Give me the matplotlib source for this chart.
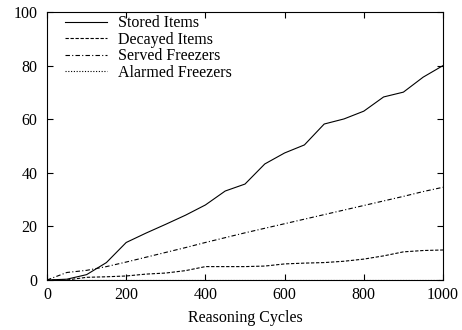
import numpy as np
import matplotlib
matplotlib.use("Agg")
import matplotlib.pyplot as plt

plt.rcParams['font.family'] = ['Liberation Serif', 'DejaVu Serif']

cycles = [0, 50, 100, 150, 200, 250, 300, 350, 400, 450, 500,
          550, 600, 650, 700, 750, 800, 850, 900, 950, 1000]
stored = [0, 0.3, 2.0, 6.5, 14.0, 17.5, 20.8, 24.2, 28.0, 33.2, 35.8,
          43.3, 47.4, 50.4, 58.2, 60.1, 63.0, 68.3, 70.1, 75.7, 80.0]
decayed = [0, 0, 1.0, 1.2, 1.5, 2.2, 2.6, 3.5, 5.0, 5.0, 5.0,
           5.2, 6.0, 6.3, 6.5, 7.0, 7.8, 9.0, 10.5, 11.0, 11.2]
served = [0, 2.8, 3.6, 5.0, 6.7, 8.5, 10.3, 12.1, 14.0, 15.8, 17.6,
          19.3, 21.0, 22.7, 24.4, 26.1, 27.8, 29.5, 31.2, 33.0, 34.6]
alarmed = [0] * 21

fig = plt.figure(figsize=(4.62, 3.30), dpi=100)
ax = fig.add_axes([47 / 462, 50 / 330, 396 / 462, 268 / 330])

ax.plot(cycles, stored, color='black', lw=0.8, ls='-', label='Stored Items')
ax.plot(cycles, decayed, color='black', lw=0.8, ls=(0, (3, 1.5)), label='Decayed Items')
ax.plot(cycles, served, color='black', lw=0.8, ls=(0, (4, 2, 1, 2)), label='Served Freezers')
ax.plot(cycles, alarmed, color='black', lw=0.8, ls=(0, (1, 1.5)), label='Alarmed Freezers')

ax.set_xlim(0, 1000)
ax.set_ylim(0, 100)
ax.set_xticks(np.arange(0, 1001, 200))
ax.set_yticks(np.arange(0, 101, 20))
ax.tick_params(direction='in', top=True, right=True, length=4, width=0.8, labelsize=11.5)
ax.tick_params(axis='y', pad=7)
ax.tick_params(axis='x', pad=5)
for s in ax.spines.values():
    s.set_linewidth(0.8)
ax.set_xlabel('Reasoning Cycles', fontsize=11.5, labelpad=5)

ax.legend(loc='upper left', frameon=False, fontsize=11.5, handlelength=2.6,
          handletextpad=0.7, labelspacing=0.03, borderaxespad=0.0,
          bbox_to_anchor=(0.03, 1.012))

fig.savefig('out.png', dpi=100)
